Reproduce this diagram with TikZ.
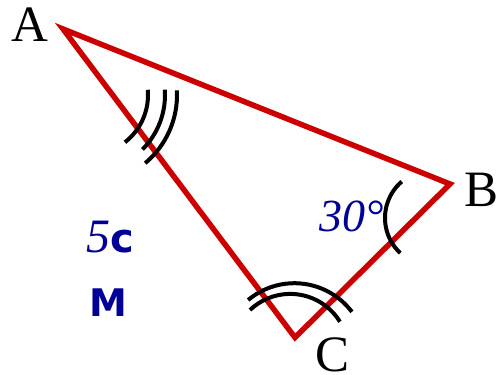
\documentclass[tikz,border=0pt]{standalone}
\usepackage{fontspec}
\setmainfont{Liberation Serif}
\setsansfont{Liberation Sans}
\newfontfamily\unitfont{DejaVu Sans}
\definecolor{tri}{RGB}{204,0,0}
\definecolor{ink}{RGB}{0,0,153}

\begin{document}
\begin{tikzpicture}[x=1pt, y=1pt]
  \tikzset{side/.style={tri, line width=5.5pt, line join=miter},
    angmark/.style={black, line width=4pt},
    vlabel/.style={inner sep=0pt, font=\fontsize{51}{60}\selectfont},
    measure/.style={inner sep=0pt, text=ink}}
  \useasboundingbox (0,0) rectangle (496,375);
  % ---- vertices and sides ----
  \coordinate (A) at (63,346);
  \coordinate (B) at (450,191);
  \coordinate (C) at (295,37.5);
  \draw[side] (A) -- (B) -- (C) -- cycle;
  % ---- angle marks: three at A, two at C, one at B ----
  \foreach \r/\a/\b in {60/5/-52, 77/4/-45, 89/3/-50}
    \draw[angmark] (88,280) ++(\a:\r) arc[start angle=\a, end angle=\b, radius=\r];
  \draw[angmark] (294.4,19.8) ++(37:72) arc[start angle=37, end angle=130, radius=72];
  \draw[angmark] (290.2,22.8) ++(31.5:58.3) arc[start angle=31.5, end angle=133.6, radius=58.3];
  \draw[angmark] (433,157) ++(130.6:48) arc[start angle=130.6, end angle=227, radius=48];
  % ---- labels ----
  \node[vlabel, anchor=base] (labA) at (30,333) {A};
  \node[vlabel, anchor=base west] (labB) at (464,168) {B};
  \node[vlabel, anchor=base] (labC) at (332.5,3) {C};
  \node[measure, anchor=base east, font=\fontsize{46}{54}\selectfont\itshape] (angB) at (384,143) {30°};
  \node[measure, anchor=base west] (len) at (86,122)
    {{\fontsize{48}{56}\selectfont\itshape 5}{\fontsize{40}{48}\selectfont\unitfont\bfseries c}};
  \node[measure, anchor=base west, font=\fontsize{38}{46}\selectfont\unitfont\bfseries] (unit) at (89,58) {M};
\end{tikzpicture}
\end{document}
